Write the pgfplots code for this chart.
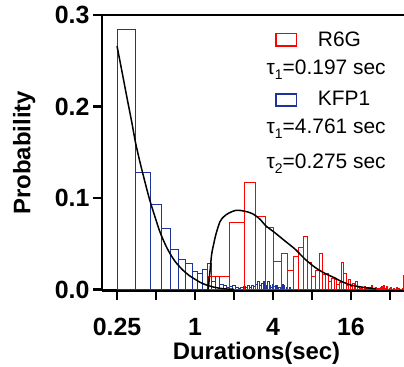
\documentclass[border=0pt]{standalone}
\usepackage{fontspec}
\setmainfont{Liberation Sans}
\usepackage{pgfplots}
\pgfplotsset{compat=1.18}
\definecolor{kblue}{RGB}{28,52,155}
\definecolor{rred}{RGB}{255,0,0}
\newcommand{\sub}[1]{\raisebox{-0.45ex}{\fontsize{14}{14}\selectfont #1}}
\begin{document}
\begin{tikzpicture}
\begin{axis}[
  at={(0,0)}, anchor=south west,
  scale only axis, width=302bp, height=275.5bp,
  xmode=log, log basis x=2,
  xmin=0.1915, xmax=41.05, ymin=-0.001, ymax=0.3,
  axis x line*=bottom, axis y line*=left,
  axis line style={line width=2.6bp, -},
  tick align=outside, major tick length=9bp,
  major tick style={line width=2.6bp, black},
  xtick={0.25,0.5,1,2,4,8,16,32},
  xticklabels={0.25,,1,,4,,16,},
  ytick={0,0.1,0.2,0.3}, yticklabels={0.0,0.1,0.2,0.3},
  minor x tick num=0,
  ticklabel style={font=\bfseries\fontsize{25}{25}\selectfont},
  xticklabel style={yshift=-15bp},
  xlabel={Durations(sec)}, ylabel={Probability},
  every axis x label/.style={at={(axis description cs:0.5116,-0.2512)}, anchor=base, font=\bfseries\fontsize{24}{24}\selectfont},
  every axis y label/.style={at={(axis description cs:-0.2368,0.5)}, anchor=base, rotate=90, font=\bfseries\fontsize{24}{24}\selectfont},
  clip=false,
]
% KFP1 histogram
\addplot[ybar interval, draw=kblue, fill=none, line width=1bp] coordinates {
(0.25,0.2844) (0.35,0.1277) (0.45,0.0935) (0.55,0.0665) (0.65,0.0443) (0.75,0.033)
(0.85,0.0286) (0.95,0.0195) (1.05,0.0177) (1.15,0.022) (1.25,0.0286) (1.35,0.0085)
(1.45,0.0148) (1.55,0.006) (1.65,0.004) (1.75,0.002) (1.85,0.003) (1.95,0.004)
(2.05,0.002) (2.15,0.001) (2.25,0.002) (2.35,0.003) (2.45,0.002) (2.55,0.004)
(2.65,0.002) (2.75,0.005) (2.85,0.003) (2.95,0.006) (3.05,0.0085) (3.15,0.004)
(3.25,0.007) (3.35,0.009) (3.45,0.003) (3.55,0.005) (3.65,0.009) (3.75,0.004)
(3.85,0.002) (3.95,0.006) (4.05,0.003) (4.15,0.004) (4.25,0.005) (4.35,0.002)
(4.45,0.002) (4.55,0) (4.65,0.003) (4.75,0.006) (4.85,0.005) (4.95,0)
(5.05,0.002) (5.15,0) (5.25,0) (5.35,0.002) (5.45,0)
};
% R6G histogram
\addplot[ybar interval, draw=rred, fill=none, line width=1bp] coordinates {
(1.280,0.0144) (1.838,0.073) (2.396,0.117) (2.954,0.0796) (3.512,0.068) (4.070,0.0303)
(4.628,0.039) (5.186,0.021) (5.744,0.036) (6.302,0.046) (6.860,0.0577) (7.418,0.030)
(7.976,0.0148) (8.534,0.021) (9.092,0.039) (9.650,0.016) (10.208,0.0177) (10.766,0.0085)
(11.324,0.012) (11.882,0.0105) (12.440,0.006) (12.998,0.008) (13.556,0.030) (14.114,0.0175)
(14.672,0.004) (15.230,0.0115) (15.788,0.003) (16.346,0.007) (16.904,0.002) (17.462,0.0085)
(18.020,0.002) (18.578,0.001) (19.136,0.002) (19.694,0) (20.252,0.003) (20.810,0.001)
(21.368,0) (21.926,0.002) (22.484,0) (23.042,0.004) (23.600,0.001) (24.158,0)
(24.716,0.002) (25.274,0) (25.832,0.001) (26.390,0) (26.948,0.002) (27.506,0.0035)
(28.064,0) (28.622,0.004) (29.180,0) (29.738,0.001) (30.296,0.003) (30.854,0)
(31.412,0) (31.970,0.001) (32.528,0.002) (33.086,0) (33.644,0) (34.202,0.001)
(34.760,0) (35.318,0) (35.876,0.002) (36.434,0) (36.992,0) (37.550,0.001)
(38.108,0) (38.666,0) (39.224,0) (39.782,0.001) (40.340,0.015) (40.898,0)
};
% fits
\addplot[black, line width=1.5bp, smooth] coordinates {
(0.25,0.2662) (0.275,0.236) (0.30,0.208) (0.325,0.183) (0.347,0.161) (0.375,0.140)
(0.40,0.124) (0.445,0.099) (0.5,0.076) (0.543,0.061) (0.6,0.047) (0.65,0.038)
(0.7,0.031) (0.75,0.026) (0.81,0.021) (0.9,0.0155) (1.0,0.0113) (1.1,0.0078)
(1.2,0.0055) (1.34,0.0033) (1.5,0.0018) (1.7,0.0008) (2.0,0.0003)
};
\addplot[black, line width=1.5bp, smooth] coordinates {
(1.262,0) (1.277,0.006) (1.29,0.0133) (1.31,0.022) (1.345,0.0387) (1.40,0.051)
(1.45,0.0604) (1.56,0.0743) (1.68,0.080) (1.82,0.0835) (2.07,0.0866) (2.39,0.0858)
(2.77,0.083) (3.18,0.0768) (3.5,0.070) (4.12,0.0623) (4.95,0.0531) (5.93,0.0441)
(7.08,0.0332) (8.45,0.0242) (10.1,0.0176) (12.1,0.0125) (13.2,0.0095) (15.75,0.0052)
(18.8,0.003) (21,0.002) (25,0.0008)
};
\end{axis}
% top spine
\draw[line width=2.6bp] (-1.3bp,275.5bp) -- (302bp,275.5bp);
% legend
\draw[rred, line width=1.2bp] (174bp,244.5bp) rectangle (194.7bp,257.2bp);
\node[anchor=base west, inner sep=0pt, font=\fontsize{21}{21}\selectfont] at (215.7bp,244bp) {R6G};
\node[anchor=base, inner sep=0pt, font=\fontsize{21}{21}\selectfont] at (224.2bp,215.5bp) {τ\sub{1}=0.197 sec};
\draw[kblue, line width=1.2bp] (174bp,184.5bp) rectangle (194.7bp,196.5bp);
\node[anchor=base west, inner sep=0pt, font=\fontsize{21}{21}\selectfont] at (215.7bp,184.5bp) {KFP1};
\node[anchor=base, inner sep=0pt, font=\fontsize{21}{21}\selectfont] at (224.2bp,157.2bp) {τ\sub{1}=4.761 sec};
\node[anchor=base, inner sep=0pt, font=\fontsize{21}{21}\selectfont] at (224.2bp,122.2bp) {τ\sub{2}=0.275 sec};
\pgfresetboundingbox
\path[use as bounding box] (-102bp,-76.5bp) rectangle (302bp,290.5bp);
\end{tikzpicture}
\end{document}
